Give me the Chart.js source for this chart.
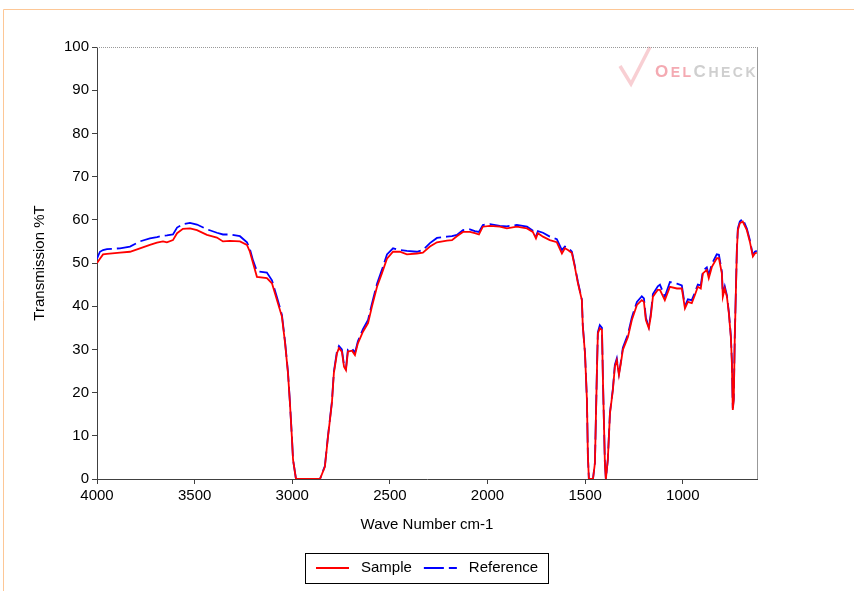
<!DOCTYPE html>
<html>
<head>
<meta charset="utf-8">
<script src="https://cdn.jsdelivr.net/npm/chart.js@4.4.0/dist/chart.umd.min.js"></script>
<style>
  body { margin: 0; background: #fff; }
  #wrap { position: relative; width: 854px; height: 591px; }
</style>
</head>
<body>
<div id="wrap"><canvas id="irChart" width="854" height="591"></canvas></div>
<script>
// wave numbers (cm-1)
const waveNumbers = [
  4000, 3985, 3969, 3949, 3882, 3831, 3780, 3729, 3693, 3662,
  3642, 3611, 3590, 3560, 3524, 3488, 3437, 3386, 3355, 3319,
  3268, 3232, 3217, 3201, 3181, 3130, 3104, 3078, 3053, 3037,
  3022, 3012, 3002, 2996, 2981, 2858, 2833, 2817, 2797, 2787,
  2771, 2761, 2746, 2735, 2725, 2715, 2694, 2679, 2664, 2638,
  2612, 2592, 2566, 2541, 2515, 2484, 2449, 2413, 2362, 2331,
  2295, 2259, 2208, 2182, 2157, 2126, 2090, 2065, 2044, 2024,
  1988, 1937, 1901, 1850, 1798, 1768, 1752, 1742, 1716, 1681,
  1645, 1619, 1604, 1588, 1568, 1553, 1537, 1517, 1512, 1501,
  1491, 1486, 1481, 1460, 1450, 1440, 1435, 1425, 1414, 1409,
  1399, 1394, 1384, 1373, 1358, 1348, 1338, 1327, 1317, 1307,
  1281, 1261, 1235, 1210, 1199, 1189, 1174, 1164, 1153, 1128,
  1117, 1092, 1066, 1030, 1005, 989, 974, 954, 938, 923,
  908, 897, 877, 867, 851, 826, 815, 800, 795, 785,
  774, 764, 754, 749, 744, 739, 734, 723, 718, 708,
  693, 672, 657, 641, 631, 621
];

// transmission %T of the sample
const sampleT = [
  50.0, 51.0, 52.0, 52.1, 52.4, 52.6, 53.4, 54.2, 54.7, 55.0,
  54.8, 55.3, 56.9, 57.9, 58.0, 57.6, 56.5, 55.9, 55.0, 55.1,
  55.0, 54.2, 52.6, 50.0, 46.8, 46.5, 45.3, 41.4, 37.6, 31.5,
  24.5, 17.6, 9.7, 4.4, 0, 0, 2.8, 9.8, 17.6, 24.5,
  29.1, 30.3, 29.5, 26.0, 25.2, 29.5, 29.7, 28.7, 31.4, 34.1,
  36.1, 39.9, 44.5, 47.6, 51.0, 52.6, 52.6, 52.0, 52.2, 52.4,
  53.8, 54.8, 55.2, 55.3, 56.2, 57.2, 57.2, 56.9, 56.6, 58.4,
  58.6, 58.4, 58.0, 58.4, 58.0, 57.2, 55.7, 56.9, 56.1, 55.3,
  54.8, 52.2, 53.4, 53.0, 52.3, 49.1, 45.3, 41.4, 35.3, 29.1,
  18.3, 5.2, 0, 0, 3.7, 24.5, 33.7, 34.9, 34.5, 22.9,
  3.7, 0, 4.4, 15.2, 20.6, 26.0, 27.5, 24.1, 26.8, 29.9,
  32.9, 36.8, 40.3, 41.4, 41.0, 36.8, 34.9, 37.6, 42.2, 43.8,
  43.8, 41.4, 44.5, 44.1, 44.1, 39.5, 41.0, 40.7, 42.6, 44.5,
  44.1, 47.6, 48.4, 46.5, 49.1, 51.1, 51.1, 47.6, 42.2, 44.1,
  42.2, 38.3, 32.9, 27.5, 16.0, 18.3, 32.2, 53.0, 57.6, 59.2,
  59.6, 57.6, 55.0, 51.5, 52.2, 52.4
];

// transmission %T of the reference oil
const referenceT = [
  51.0, 52.6, 53.0, 53.2, 53.4, 53.8, 55.0, 55.7, 56.0, 56.3,
  56.4, 56.6, 58.2, 59.0, 59.3, 58.9, 57.8, 57.0, 56.6, 56.6,
  56.2, 54.8, 53.2, 50.6, 48.1, 47.8, 46.0, 42.0, 38.0, 31.8,
  24.8, 17.8, 9.8, 4.5, 0, 0, 3.0, 10.0, 17.9, 24.8,
  29.6, 30.8, 30.0, 26.4, 25.6, 30.0, 30.2, 29.2, 31.9, 34.7,
  36.8, 40.6, 45.2, 48.4, 52.0, 53.4, 53.0, 52.8, 52.6, 53.0,
  54.6, 55.8, 56.1, 56.2, 56.5, 57.6, 57.8, 57.4, 57.2, 58.8,
  59.0, 58.6, 58.5, 58.8, 58.4, 57.5, 56.2, 57.4, 57.0, 56.1,
  55.5, 53.0, 53.8, 53.6, 52.6, 49.4, 45.6, 41.6, 35.5, 29.3,
  18.4, 5.3, 0, 0, 3.8, 24.8, 34.0, 35.6, 35.0, 23.1,
  3.8, 0, 4.5, 15.4, 20.9, 26.4, 27.9, 24.4, 27.2, 30.4,
  33.5, 37.4, 41.0, 42.3, 41.8, 37.3, 35.2, 38.2, 42.8, 44.6,
  45.0, 42.2, 45.6, 45.2, 44.8, 40.0, 41.6, 41.4, 43.2, 45.0,
  44.8, 48.2, 49.0, 47.2, 49.8, 52.0, 51.9, 48.0, 42.8, 44.6,
  42.5, 38.6, 33.2, 27.8, 16.4, 18.6, 32.6, 53.4, 58.0, 59.6,
  60.2, 58.0, 55.4, 51.8, 52.6, 52.8
];

const xTicks = [4000, 3500, 3000, 2500, 2000, 1500, 1000];
const yTicks = [0, 10, 20, 30, 40, 50, 60, 70, 80, 90, 100];

const FONT = "'Liberation Sans', Arial, sans-serif";
const AXIS = '#404040';

const pairs = (ys) => waveNumbers.map((w, i) => ({ x: w, y: ys[i] }));

// page frame, plot frame, legend box and watermark
const decor = {
  id: 'decor',
  beforeDraw(chart) {
    const ctx = chart.ctx;
    ctx.save();
    ctx.fillStyle = '#fff';
    ctx.fillRect(0, 0, chart.width, chart.height);
    ctx.strokeStyle = '#fdc796';
    ctx.lineWidth = 1;
    ctx.beginPath();
    ctx.moveTo(3.5, chart.height);
    ctx.lineTo(3.5, 9.5);
    ctx.lineTo(chart.width, 9.5);
    ctx.stroke();

    // watermark
    ctx.globalAlpha = 0.5;
    ctx.strokeStyle = '#f2a0a8';
    ctx.lineWidth = 3.5;
    ctx.beginPath();
    ctx.moveTo(620, 66);
    ctx.lineTo(631, 84);
    ctx.lineTo(650, 47);
    ctx.stroke();
    ctx.globalAlpha = 1;
    ctx.textBaseline = 'alphabetic';
    let x = 655;
    const parts = [
      ['O', 17, '#f4aab2'], ['E', 14, '#f4aab2'], ['L', 14, '#f4aab2'],
      ['C', 17, '#cfcfcf'], ['H', 14, '#cfcfcf'], ['E', 14, '#cfcfcf'],
      ['C', 14, '#cfcfcf'], ['K', 14, '#cfcfcf']
    ];
    for (const [t, s, c] of parts) {
      ctx.font = 'bold ' + s + 'px ' + FONT;
      ctx.fillStyle = c;
      ctx.fillText(t, x, 77);
      x += ctx.measureText(t).width + 2.5;
    }
    ctx.restore();
  },
  afterDraw(chart) {
    const { ctx, chartArea: a } = chart;
    ctx.save();
    ctx.strokeStyle = '#999';
    ctx.lineWidth = 1;
    ctx.setLineDash([1, 1]);
    ctx.beginPath();
    ctx.moveTo(a.left, Math.round(a.top) + 0.5);
    ctx.lineTo(a.right, Math.round(a.top) + 0.5);
    ctx.stroke();
    ctx.setLineDash([]);
    ctx.beginPath();
    ctx.moveTo(Math.round(a.right) + 0.5, a.top);
    ctx.lineTo(Math.round(a.right) + 0.5, a.bottom);
    ctx.stroke();

    // legend: line sample, label, boxed, centred under the chart
    const sets = chart.data.datasets;
    ctx.font = '15px ' + FONT;
    const lineW = 33, gap = 12, sep = 12, padL = 11, padR = 10;
    const widths = sets.map((d) => ctx.measureText(d.label).width);
    let total = padL + padR + sep * (sets.length - 1);
    widths.forEach((w) => { total += lineW + gap + w; });
    const left = Math.round(chart.width / 2 - total / 2);
    const cy = 568;
    ctx.strokeStyle = '#000';
    ctx.strokeRect(left + 0.5, cy - 14.5, Math.round(total), 30);
    let x = left + padL;
    sets.forEach((d, i) => {
      ctx.strokeStyle = d.borderColor;
      ctx.lineWidth = 1.8;
      ctx.setLineDash(d.borderDash || []);
      ctx.beginPath();
      ctx.moveTo(x, cy);
      ctx.lineTo(x + lineW, cy);
      ctx.stroke();
      ctx.setLineDash([]);
      ctx.fillStyle = '#000';
      ctx.textBaseline = 'middle';
      ctx.fillText(d.label, x + lineW + gap, cy);
      x += lineW + gap + widths[i] + sep;
    });
    ctx.restore();
  }
};

new Chart(document.getElementById('irChart'), {
  type: 'line',
  data: {
    datasets: [
      {
        label: 'Sample',
        data: pairs(sampleT),
        borderColor: '#ff0000',
        backgroundColor: '#ff0000',
        borderWidth: 1.8,
        pointRadius: 0,
        tension: 0,
        fill: false
      },
      {
        label: 'Reference',
        data: pairs(referenceT),
        borderColor: '#0000ff',
        backgroundColor: '#0000ff',
        borderWidth: 1.8,
        borderDash: [20, 5],
        pointRadius: 0,
        tension: 0,
        fill: false
      }
    ]
  },
  options: {
    responsive: false,
    animation: false,
    layout: { padding: { left: 0, right: 97, top: 47, bottom: 42 } },
    plugins: {
      tooltip: { enabled: false },
      legend: { display: false }
    },
    scales: {
      x: {
        type: 'linear',
        reverse: true,
        min: 620,
        max: 4000,
        afterBuildTicks: (s) => { s.ticks = xTicks.map((v) => ({ value: v })); },
        afterFit: (s) => { s.height = 70; },
        border: { display: true, color: AXIS, width: 1 },
        grid: { drawOnChartArea: false, drawTicks: true, tickLength: 5, color: AXIS },
        ticks: {
          color: '#000',
          padding: 3,
          maxRotation: 0,
          font: { family: FONT, size: 15 },
          callback: (v) => String(v)
        },
        title: {
          display: true,
          text: 'Wave Number cm-1',
          color: '#000',
          padding: { top: 4, bottom: 15 },
          font: { family: FONT, size: 15 }
        }
      },
      y: {
        min: 0,
        max: 100,
        afterBuildTicks: (s) => { s.ticks = yTicks.map((v) => ({ value: v })); },
        afterFit: (s) => { s.width = 97; },
        border: { display: true, color: AXIS, width: 1 },
        grid: { drawOnChartArea: false, drawTicks: true, tickLength: 5, color: AXIS },
        ticks: {
          color: '#000',
          padding: 3,
          font: { family: FONT, size: 15 },
          callback: (v) => String(v)
        },
        title: {
          display: true,
          text: 'Transmission %T',
          color: '#000',
          padding: { top: 31, bottom: 4 },
          font: { family: FONT, size: 15 }
        }
      }
    }
  },
  plugins: [decor]
});
</script>
</body>
</html>
